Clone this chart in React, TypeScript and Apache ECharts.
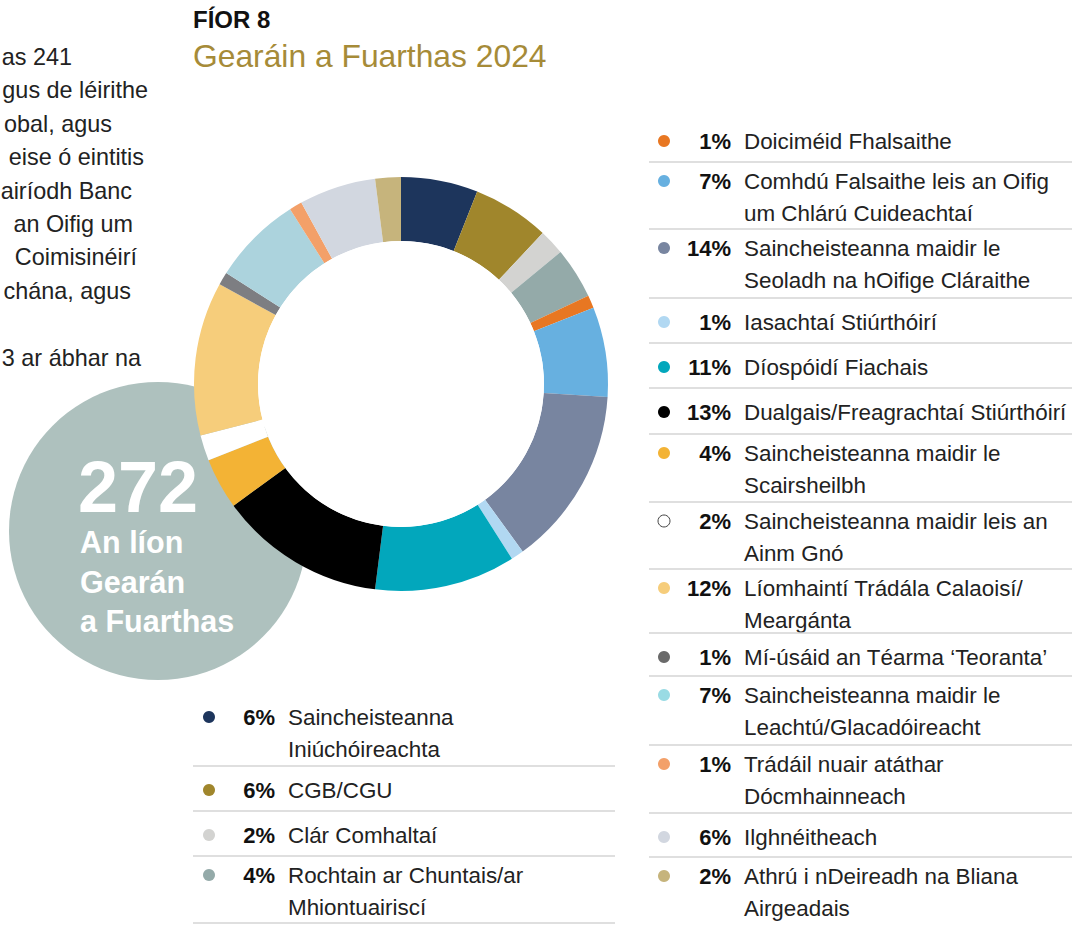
import React, { useEffect, useRef } from "react";
import * as echarts from "echarts";

// ---- Data ----
const categories: string[] = [
  "Saincheisteanna\nIniúchóireachta",
  "CGB/CGU",
  "Clár Comhaltaí",
  "Rochtain ar Chuntais/ar\nMhiontuairiscí",
  "Doiciméid Fhalsaithe",
  "Comhdú Falsaithe leis an Oifig\num Chlárú Cuideachtaí",
  "Saincheisteanna maidir le\nSeoladh na hOifige Cláraithe",
  "Iasachtaí Stiúrthóirí",
  "Díospóidí Fiachais",
  "Dualgais/Freagrachtaí Stiúrthóirí",
  "Saincheisteanna maidir le\nScairsheilbh",
  "Saincheisteanna maidir leis an\nAinm Gnó",
  "Líomhaintí Trádála Calaoisí/\nMeargánta",
  "Mí-úsáid an Téarma ‘Teoranta’",
  "Saincheisteanna maidir le\nLeachtú/Glacadóireacht",
  "Trádáil nuair atáthar\nDócmhainneach",
  "Ilghnéitheach",
  "Athrú i nDeireadh na Bliana\nAirgeadais",
];
const percents: number[] = [6, 6, 2, 4, 1, 7, 14, 1, 11, 13, 4, 2, 12, 1, 7, 1, 6, 2];
const sliceColors: string[] = [
  "#1d355c", "#a0862c", "#d3d3d1", "#94aaa9", "#e87722", "#67b0e0",
  "#7885a0", "#b1d8f2", "#02a7bc", "#000000", "#f3b335", "#ffffff",
  "#f6cd7b", "#7d7e82", "#acd3dd", "#f3a069", "#d2d7e0", "#c6b47c",
];
const dotColors: string[] = [
  "#1d355c", "#a0862c", "#d3d3d1", "#94aaa9", "#e87722", "#67b0e0",
  "#7885a0", "#b1d8f2", "#02a7bc", "#000000", "#f3b335", "#ffffff",
  "#f6cd7b", "#6a6a6a", "#99dbe4", "#f3a069", "#d2d7e0", "#c6b47c",
];
const leftLegendCount = 4;
const totalComplaints = "272";
const totalLabel: string[] = ["An líon", "Gearán", "a Fuarthas"];
const figLabel = "FÍOR 8";
const figTitle = "Gearáin a Fuarthas 2024";
const paragraphLines: string[] = [
  "as 241",
  "gus de léirithe",
  "obal, agus",
  "eise ó eintitis",
  "airíodh Banc",
  "an Oifig um",
  "Coimisinéirí",
  "chána, agus",
  "",
  "3 ar ábhar na",
];

// ---- Layout ----
const FONT = "'Liberation Sans', Arial, Helvetica, sans-serif";
const paragraphRight = [72, 148, 112, 144, 132, 133, 137, 131, 0, 141];
const rightRowTops = [117, 162, 229, 298, 343, 388, 434, 502, 569, 633, 676, 745, 813, 857];
const leftRowTops = [698, 766, 811, 856];
const leftBottom = 923;

export default function App() {
  const ref = useRef<HTMLDivElement>(null);

  useEffect(() => {
    if (!ref.current) return;
    const chart = echarts.init(ref.current, null, { renderer: "svg" });

    const elements: any[] = [];

    // Gray circle behind donut
    elements.push({
      type: "circle",
      z: 0,
      shape: { cx: 158, cy: 531, r: 149 },
      style: { fill: "#aec1be" },
    });
    // white hole
    elements.push({
      type: "circle",
      z: 5,
      shape: { cx: 401, cy: 384, r: 143 },
      style: { fill: "#ffffff" },
    });
    elements.push({
      type: "text",
      z: 10,
      x: 78,
      y: 487,
      style: {
        text: totalComplaints,
        fill: "#ffffff",
        font: `bold 72px ${FONT}`,
        verticalAlign: "middle",
      },
    });
    totalLabel.forEach((t, i) => {
      elements.push({
        type: "text",
        z: 10,
        x: 80,
        y: 542 + i * 39.5,
        style: {
          text: t,
          fill: "#ffffff",
          font: `bold 30.5px ${FONT}`,
          verticalAlign: "middle",
        },
      });
    });

    // Title
    elements.push({
      type: "text",
      x: 193,
      y: 19,
      style: { text: figLabel, fill: "#111", font: `bold 24px ${FONT}`, verticalAlign: "middle" },
    });
    elements.push({
      type: "text",
      x: 193,
      y: 56,
      style: { text: figTitle, fill: "#a68b38", font: `31.8px ${FONT}`, verticalAlign: "middle" },
    });

    // Paragraph (cut off at left)
    paragraphLines.forEach((t, i) => {
      if (!t) return;
      elements.push({
        type: "text",
        x: paragraphRight[i],
        y: 57 + i * 33.4,
        style: { text: t, fill: "#222", font: `23.4px ${FONT}`, align: "right", verticalAlign: "middle" },
      });
    });

    // Legend rows
    const addRow = (idx: number, top: number, dotX: number, pctRight: number, labelX: number) => {
      const lines = categories[idx].split("\n");
      const firstY = lines.length > 1 ? top + 19 : top + 24;
      elements.push({
        type: "circle",
        shape: { cx: dotX, cy: firstY, r: 6 },
        style: {
          fill: dotColors[idx],
          stroke: sliceColors[idx] === "#ffffff" ? "#444" : null,
          lineWidth: 1,
        },
      });
      elements.push({
        type: "text",
        x: pctRight,
        y: firstY,
        style: {
          text: percents[idx] + "%",
          fill: "#111",
          font: `bold 22px ${FONT}`,
          align: "right",
          verticalAlign: "middle",
        },
      });
      lines.forEach((ln, j) => {
        elements.push({
          type: "text",
          x: labelX,
          y: firstY + j * 32,
          style: { text: ln, fill: "#222", font: `22.4px ${FONT}`, verticalAlign: "middle" },
        });
      });
    };

    for (let i = 0; i < leftLegendCount; i++) {
      addRow(i, leftRowTops[i], 209, 275, 288);
      const bottom = i + 1 < leftRowTops.length ? leftRowTops[i + 1] : leftBottom;
      elements.push({
        type: "line",
        shape: { x1: 193, y1: bottom, x2: 615, y2: bottom },
        style: { stroke: "#d4d4d4", lineWidth: 1.5 },
      });
    }
    for (let i = leftLegendCount; i < categories.length; i++) {
      const r = i - leftLegendCount;
      addRow(i, rightRowTops[r], 664, 731, 744);
      if (r + 1 < rightRowTops.length) {
        const y = rightRowTops[r + 1];
        elements.push({
          type: "line",
          shape: { x1: 649, y1: y, x2: 1072, y2: y },
          style: { stroke: "#d4d4d4", lineWidth: 1.5 },
        });
      }
    }

    chart.setOption({
      animation: false,
      series: [
        {
          type: "pie",
          z: 2,
          center: [401, 384],
          radius: [143, 207],
          startAngle: 90,
          clockwise: true,
          silent: true,
          label: { show: false },
          labelLine: { show: false },
          itemStyle: { borderWidth: 0 },
          data: categories.map((c, i) => ({
            name: c,
            value: percents[i],
            itemStyle: { color: sliceColors[i] },
          })),
        },
      ],
      graphic: { elements },
    });

    return () => chart.dispose();
  }, []);

  return (
    <div
      ref={ref}
      style={{ position: "fixed", left: 0, top: 0, width: 1082, height: 925, background: "#fff" }}
    />
  );
}
